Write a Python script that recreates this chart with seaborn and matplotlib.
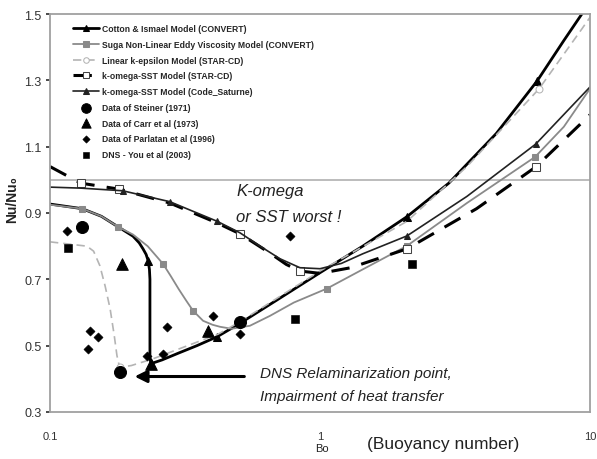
import numpy as np
import pandas as pd
import matplotlib
matplotlib.use("Agg")
import matplotlib.pyplot as plt
import seaborn as sns

# ---------------- data ----------------
cotton_x = [0.1, 0.1316, 0.155, 0.179, 0.203, 0.214, 0.221, 0.227, 0.231, 0.2335, 0.2345, 0.2345, 0.237,
            0.26, 0.3, 0.35, 0.416, 0.5, 0.7, 1.0, 1.44, 2.1, 3.0, 4.5, 6.37, 8.0, 9.6]
cotton_y = [0.927, 0.913, 0.89, 0.858, 0.83, 0.81, 0.792, 0.775, 0.756, 0.73, 0.70, 0.46, 0.446,
            0.457, 0.478, 0.50, 0.527, 0.565, 0.64, 0.72, 0.80, 0.889, 0.99, 1.14, 1.298, 1.42, 1.515]
cotton_mk = [8, 12, 16, 21, 24]

suga_x = [0.1, 0.1316, 0.155, 0.179, 0.203, 0.23, 0.262, 0.28, 0.30, 0.32, 0.339, 0.369, 0.40, 0.426,
          0.47, 0.55, 0.653, 0.8, 1.06, 1.44, 2.1, 3.5, 6.26, 8.0, 10.0]
suga_y = [0.925, 0.913, 0.89, 0.858, 0.835, 0.80, 0.747, 0.71, 0.67, 0.635, 0.605, 0.575, 0.563, 0.557,
          0.551, 0.56, 0.59, 0.63, 0.672, 0.73, 0.801, 0.93, 1.069, 1.16, 1.275]
suga_mk = [1, 3, 6, 10, 18, 20, 22]

keps_x = [0.1, 0.137, 0.145, 0.153, 0.16, 0.167, 0.173, 0.177, 0.181, 0.2, 0.24, 0.3, 0.42, 0.5,
          1.0, 2.1, 3.5, 6.47, 9.33, 10.0]
keps_y = [0.813, 0.80, 0.785, 0.741, 0.68, 0.611, 0.53, 0.47, 0.435, 0.44, 0.46, 0.49, 0.535, 0.57,
          0.725, 0.875, 1.04, 1.274, 1.455, 1.49]
keps_mk = [8, 17]

sst_star_x = [0.1, 0.13, 0.18, 0.278, 0.416, 0.506, 0.65, 0.75, 0.843, 1.0, 1.3, 2.1, 3.8, 6.3, 10.0]
sst_star_y = [1.04, 0.99, 0.972, 0.93, 0.87, 0.837, 0.78, 0.745, 0.725, 0.718, 0.735, 0.792, 0.913, 1.039, 1.196]
sst_star_mk = [1, 2, 5, 8, 11, 13]

sst_sat_x = [0.1, 0.13, 0.186, 0.278, 0.416, 0.506, 0.6, 0.711, 0.843, 1.0, 1.2, 1.44, 2.1, 3.5, 6.3, 10.0]
sst_sat_y = [0.978, 0.975, 0.967, 0.934, 0.875, 0.84, 0.80, 0.762, 0.735, 0.732, 0.748, 0.777, 0.831, 0.95, 1.108, 1.28]
sst_sat_mk = [2, 3, 4, 12, 14]

steiner_x = [0.1316, 0.1816, 0.506]
steiner_y = [0.858, 0.422, 0.572]

carr_x = [0.185, 0.385, 0.237]
carr_y = [0.747, 0.545, 0.446]

parlatan_x = [0.1156, 0.1406, 0.1506, 0.138, 0.229, 0.262, 0.271, 0.402, 0.506, 0.774]
parlatan_y = [0.846, 0.545, 0.527, 0.491, 0.470, 0.476, 0.557, 0.590, 0.536, 0.831]

dns_x = [0.1166, 0.807, 2.19]
dns_y = [0.795, 0.581, 0.747]

labels = ["Cotton & Ismael Model (CONVERT)",
          "Suga Non-Linear Eddy Viscosity Model (CONVERT)",
          "Linear k-epsilon Model (STAR-CD)",
          "k-omega-SST Model (STAR-CD)",
          "k-omega-SST Model (Code_Saturne)",
          "Data of Steiner (1971)",
          "Data of Carr et al (1973)",
          "Data of Parlatan et al (1996)",
          "DNS - You et al (2003)"]

yticks = [0.3, 0.5, 0.7, 0.9, 1.1, 1.3, 1.5]
xticks = [0.1, 1, 10]
xticklabels = ["0.1", "1", "10"]

# ---------------- figure ----------------
sns.set_theme(style="white")
plt.rcParams['font.family'] = ['Liberation Sans', 'DejaVu Sans']

fig = plt.figure(figsize=(5.97, 4.60), dpi=100)
ax = fig.add_axes([50/597, 47/460, 540/597, 398/460])

def line(x, y, label, mk, **kw):
    df = pd.DataFrame({"x": x, "y": y})
    sns.lineplot(data=df, x="x", y="y", ax=ax, sort=False, estimator=None,
                 label=label, markevery=mk, **kw)

line(cotton_x, cotton_y, labels[0], cotton_mk, color="black", lw=2.0,
     marker="^", markersize=6, markerfacecolor="black", markeredgecolor="black")
line(suga_x, suga_y, labels[1], suga_mk, color="#8a8a8a", lw=1.3,
     marker="s", markersize=5, markerfacecolor="#8a8a8a", markeredgecolor="#8a8a8a")
line(keps_x, keps_y, labels[2], keps_mk, color="#b4b4b4", lw=1.2, dashes=(5, 3),
     marker="o", markersize=5, markerfacecolor="white", markeredgecolor="#b4b4b4")
line(sst_star_x, sst_star_y, labels[3], sst_star_mk, color="black", lw=2.2, dashes=(6, 4),
     marker="s", markersize=6, markerfacecolor="white", markeredgecolor="#444444")
line(sst_sat_x, sst_sat_y, labels[4], sst_sat_mk, color="#222222", lw=1.2,
     marker="^", markersize=5, markerfacecolor="#222222", markeredgecolor="#222222")

sns.scatterplot(x=steiner_x, y=steiner_y, ax=ax, marker="o", s=75, color="black",
                edgecolor="black", label=labels[5], zorder=5)
sns.scatterplot(x=carr_x, y=carr_y, ax=ax, marker="^", s=70, color="black",
                edgecolor="black", label=labels[6], zorder=5)
sns.scatterplot(x=parlatan_x, y=parlatan_y, ax=ax, marker="D", s=22, color="black",
                edgecolor="black", label=labels[7], zorder=5)
sns.scatterplot(x=dns_x, y=dns_y, ax=ax, marker="s", s=28, color="black",
                edgecolor="black", label=labels[8], zorder=5)

ax.set_xscale("log")
ax.set_xlim(0.1, 10)
ax.set_ylim(0.3, 1.5)
ax.axhline(1.0, color="#b0b0b0", lw=1.2, zorder=0)
ax.set_xticks(xticks)
ax.set_xticklabels(xticklabels)
ax.xaxis.set_minor_locator(matplotlib.ticker.NullLocator())
ax.set_yticks(yticks)
ax.set_yticklabels([f"{v:.1f}" for v in yticks])
ax.tick_params(axis="y", labelsize=9, colors="#333333", length=3, direction="out", left=True, pad=3)
ax.tick_params(axis="x", labelsize=8, colors="#333333", length=0, pad=14)
ax.set_xlabel("")
ax.set_ylabel("")
for sp in ax.spines.values():
    sp.set_color("#a0a0a0")
    sp.set_linewidth(1.3)

# legend
leg = ax.legend(loc="upper left", bbox_to_anchor=(0.035, 0.985), frameon=False,
                prop={"family": ["Liberation Sans Narrow", "Liberation Sans"], "weight": "bold", "size": 6.2},
                handlelength=3.0, handletextpad=0.3, labelspacing=0.78, borderpad=0.0,
                markerscale=0.8)

# annotations
ax.annotate("", xy=(0.201, 0.407), xytext=(0.537, 0.407),
            arrowprops=dict(arrowstyle="-|>", color="black", lw=2.2, mutation_scale=18))
ax.text(0.60, 0.418, "DNS Relaminarization point,", style="italic", fontsize=11, color="#222222",
        ha="left", va="center")
ax.text(0.60, 0.348, "Impairment of heat transfer", style="italic", fontsize=11, color="#222222",
        ha="left", va="center")
ax.text(0.49, 0.967, "K-omega", style="italic", fontsize=12, color="#222222", ha="left", va="center")
ax.text(0.49, 0.888, "or SST worst !", style="italic", fontsize=12, color="#222222", ha="left", va="center")

fig.text(12/597, 1 - 200/460, "Nu/Nu\u2080", rotation=90, ha="center", va="center",
         fontsize=10, fontweight="bold", color="#222222")
fig.text(322/597, 1 - 449/460, "Bo", ha="center", va="center", fontsize=8, color="#222222")
fig.text(443/597, 1 - 445/460, "(Buoyancy number)", ha="center", va="center", fontsize=12.5,
         color="#222222")

fig.savefig("out.png", dpi=100)
